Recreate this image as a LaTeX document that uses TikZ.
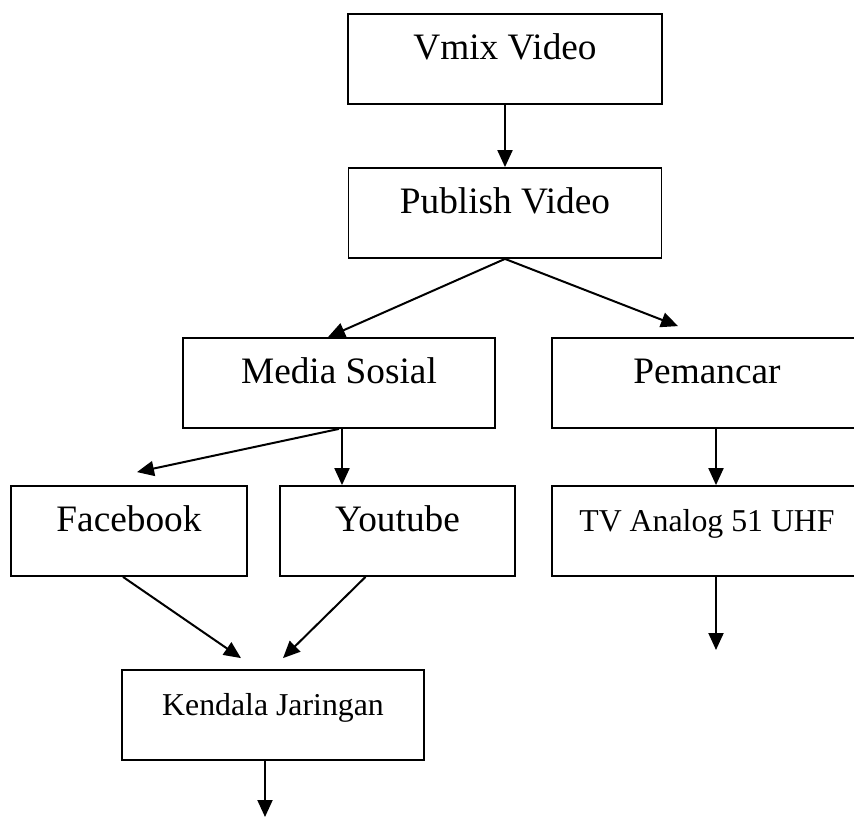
\documentclass[tikz,border=0pt]{standalone}
\usepackage{fontspec}
\setmainfont{Liberation Serif}
\usetikzlibrary{arrows.meta}

\tikzset{
  box/.style={draw, rectangle, line width=1.8pt, inner sep=0pt,
    minimum height=90pt, text height=20pt, text depth=20pt,
    font=\fontsize{37.3}{40}\selectfont},
  smallbox/.style={box, font=\fontsize{31.8}{34}\selectfont},
  flow/.style={line width=2pt, -{Triangle[length=17pt,width=15pt]}}
}

\begin{document}
\begin{tikzpicture}[x=1pt,y=-1pt]
\clip (0,0) rectangle (854,817);
\coordinate (tvout) at (716,650);
\coordinate (kendalaout) at (265,817);
\begin{scope}
% draws boxes
\node[box, minimum width=314pt] (vmix) at (505,59) {Vmix Video};
\node[box, minimum width=313pt] (publish) at (505,213) {Publish Video};
\node[box, minimum width=312pt] (medsos) at (339,383) {Media Sosial};
\node[box, minimum width=310pt] (pemancar) at (707,383) {Pemancar};
\node[box, minimum width=236pt] (facebook) at (129,531) {Facebook};
\node[box, minimum width=235pt] (youtube) at (397.5,531) {Youtube};
\node[smallbox, minimum width=310pt] (tvanalog) at (707,531) {TV Analog 51 UHF};
\node[smallbox, minimum width=302pt] (kendala) at (273,715) {Kendala Jaringan};
% draws arrows
\draw[flow] (vmix.south) -- (publish.north);
\draw[flow] (publish.south) -- ([xshift=-11pt]medsos.north);
\draw[flow] (publish.south) -- ([xshift=-29pt,yshift=11pt]pemancar.north);
\draw[flow] (medsos.south) -- ([xshift=8pt,yshift=13pt]facebook.north);
\draw[flow] ([xshift=3pt]medsos.south) -- ([xshift=3pt]medsos.south |- youtube.north);
\draw[flow] ([xshift=9pt]pemancar.south) -- ([xshift=9pt]tvanalog.north);
\draw[flow] ([xshift=9pt]tvanalog.south) -- (tvout);
\draw[flow] ([xshift=-6pt]facebook.south) -- ([xshift=-32pt,yshift=11pt]kendala.north);
\draw[flow] ([xshift=-32pt]youtube.south) -- ([xshift=10pt,yshift=11pt]kendala.north);
\draw[flow] ([xshift=-8pt]kendala.south) -- (kendalaout);
\end{scope}
\end{tikzpicture}
\end{document}
